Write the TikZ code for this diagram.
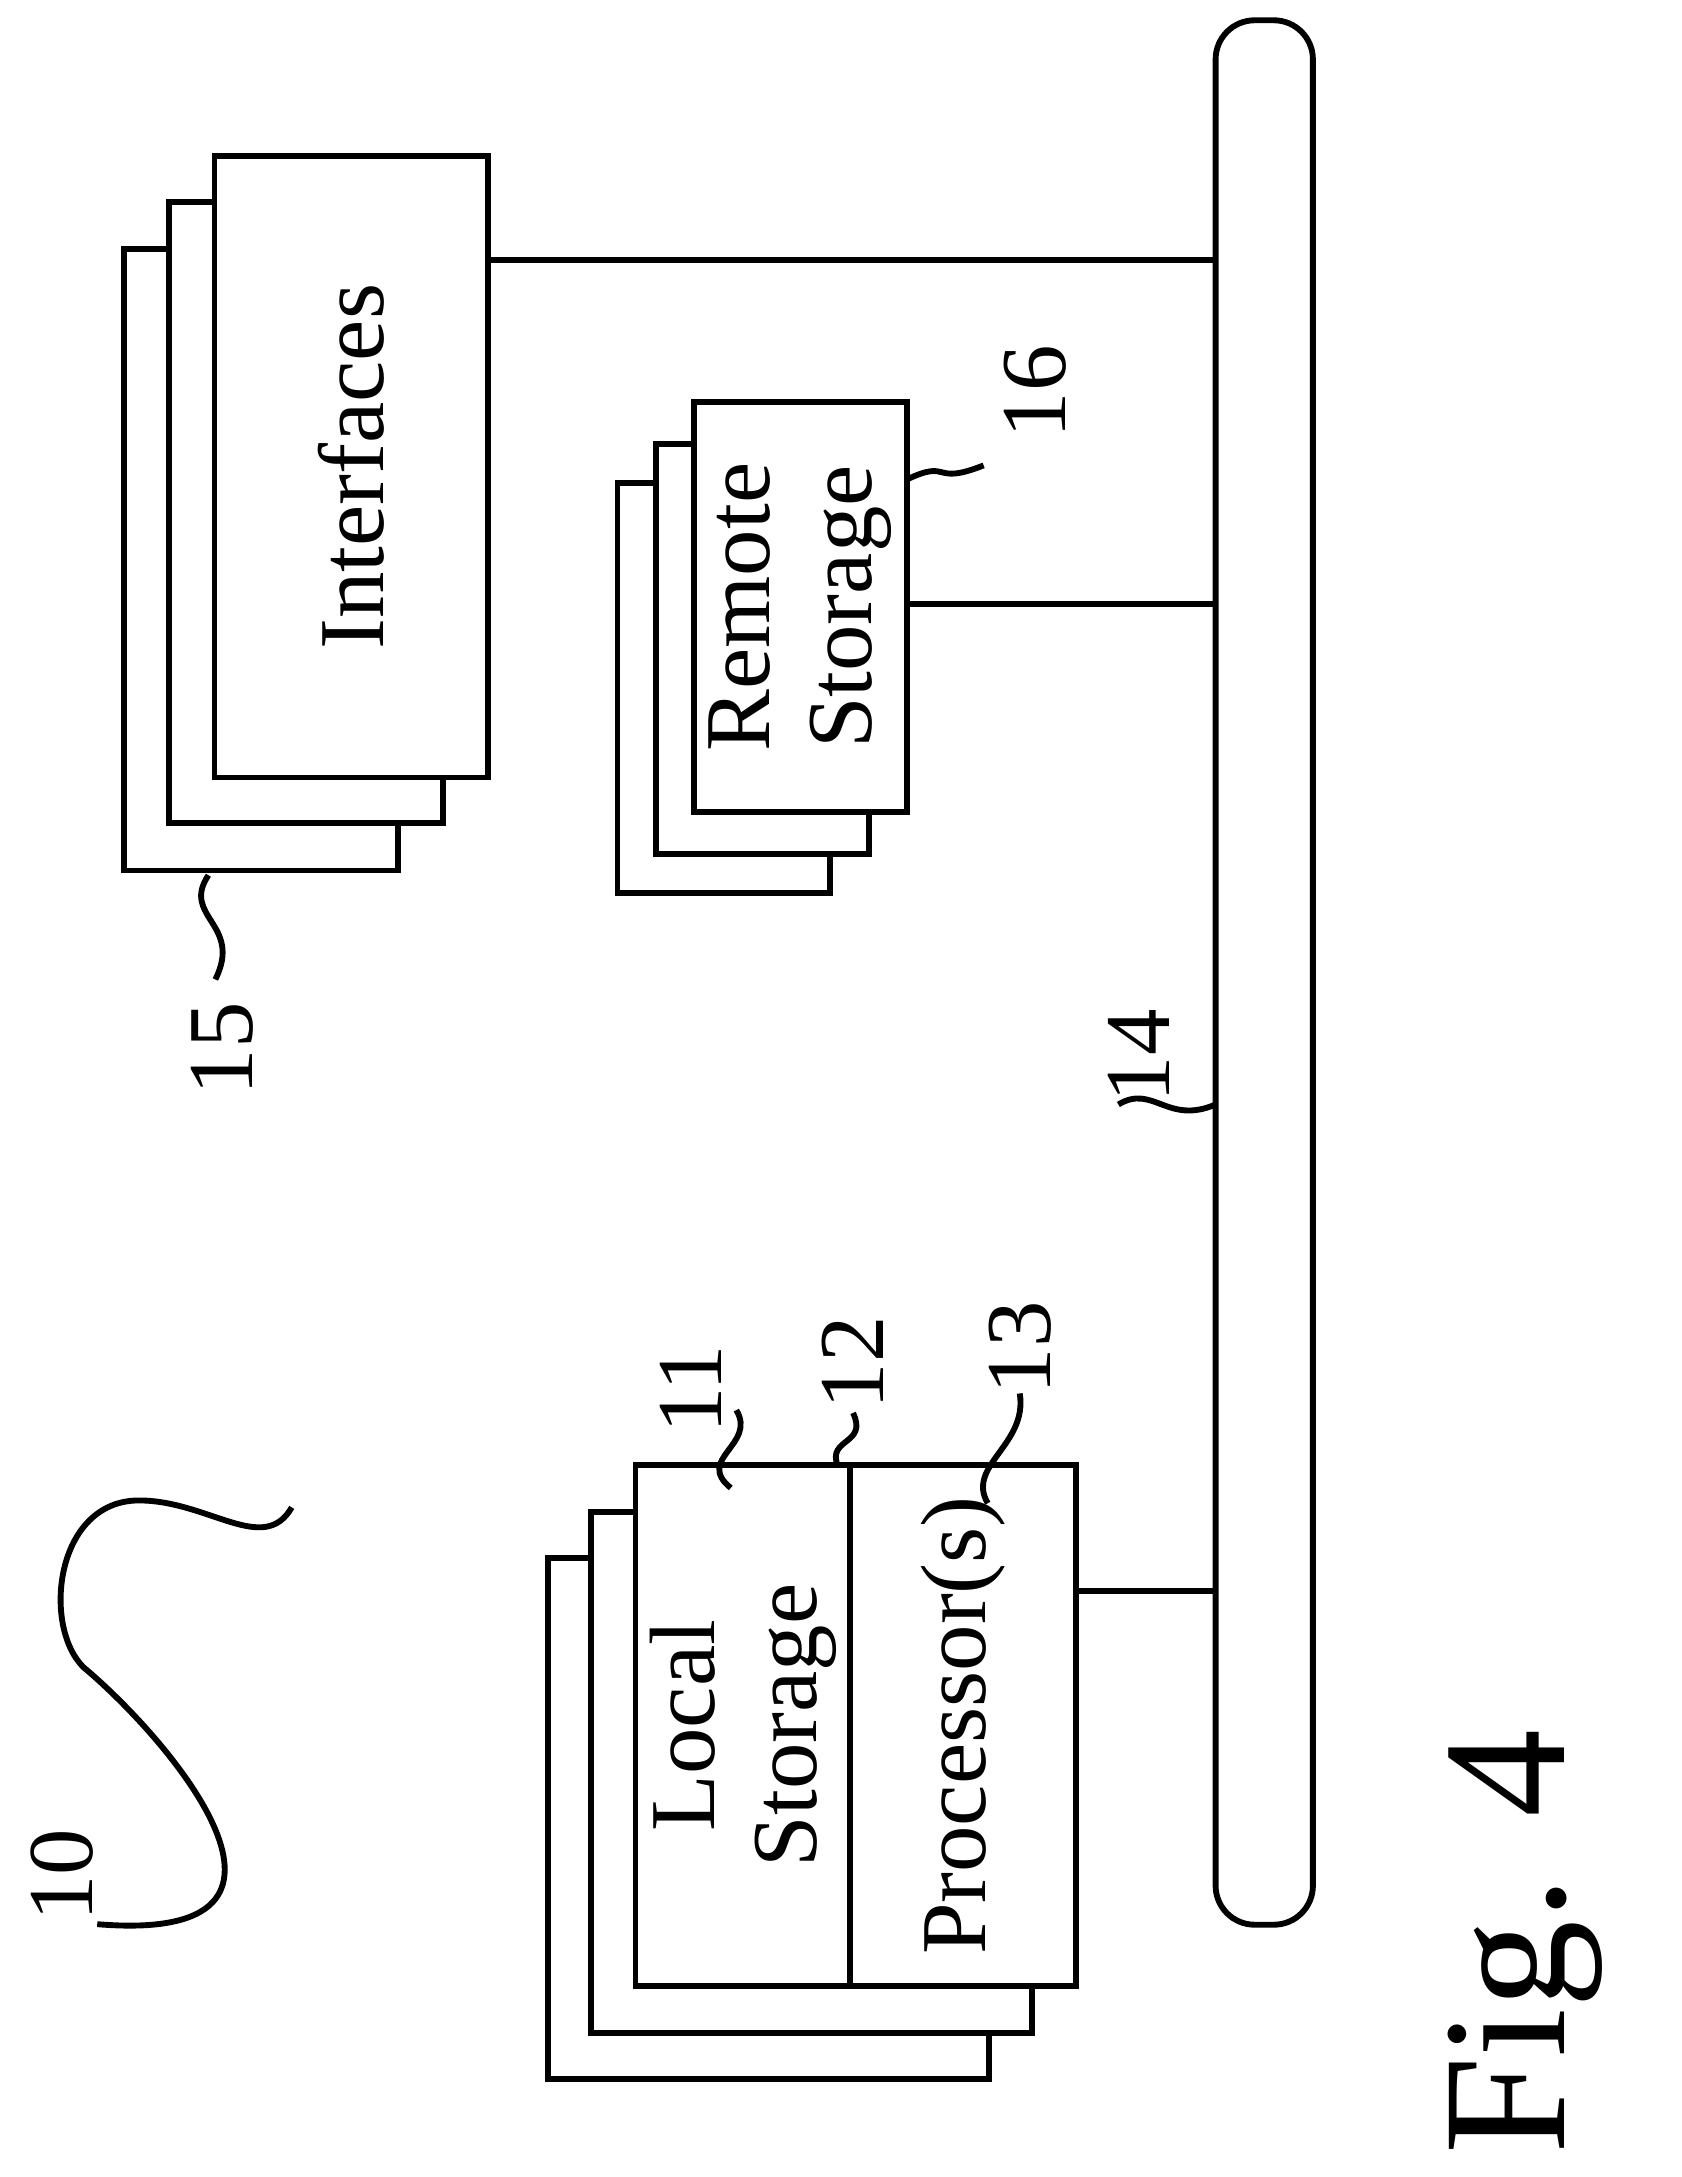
\documentclass[tikz,border=0pt]{standalone}
\usepackage{fontspec}
\setmainfont{Liberation Serif}
\usetikzlibrary{positioning}
\tikzset{
    box/.style = {rectangle, draw=black, line width=1.2pt, fill=white, inner sep=0pt},
    txt/.style = {rotate=90, align=center, font=\fontsize{19}{21}\selectfont},
    num/.style = {rotate=90, font=\fontsize{19}{21}\selectfont},
    wig/.style = {line width=1.2pt}
}
\begin{document}
\begin{tikzpicture}[x=0.01cm, y=-0.01cm]
    \useasboundingbox (0,0) rectangle (1210,1567);
    % bus
    \node [box, rounded corners=8pt, minimum width=0.7cm, minimum height=13.7cm] (bus) at (910,700) {};
    % interfaces stack
    \foreach \dx/\dy in {65/67, 33/33}
        \node [box, minimum width=1.97cm, minimum height=4.47cm] at (253-\dx,336+\dy) {};
    \node [box, minimum width=1.97cm, minimum height=4.47cm] (intf) at (253,336) {};
    \node [txt] at (intf) {Interfaces};
    \draw [line width=1.2pt] (intf.east |- 0,187) -- (bus.west |- 0,187);
    % remote storage stack
    \foreach \dx/\dy in {55/58, 27/30}
        \node [box, minimum width=1.53cm, minimum height=2.95cm] at (576-\dx,437+\dy) {};
    \node [box, minimum width=1.53cm, minimum height=2.95cm] (remote) at (576,437) {};
    \node [txt] at (remote) {Remote\\Storage};
    \draw [line width=1.2pt] (remote.east |- 0,435) -- (bus.west |- 0,435);
    % local storage / processor stack
    \foreach \dx/\dy in {63/67, 32/34}
        \node [box, minimum width=3.17cm, minimum height=3.75cm] at (616-\dx,1242+\dy) {};
    \node [box, minimum width=3.17cm, minimum height=3.75cm] (local) at (616,1242) {};
    \draw [line width=1.2pt] (612,1055) -- (612,1430);
    \node [txt] (lstor) at (535,1242) {Local\\Storage};
    \node [txt] (proc) at (693,1242) {Processor(s)};
    \draw [line width=1.2pt] (local.east |- 0,1145) -- (bus.west |- 0,1145);
    % reference numerals
    \node [num] (n10) at (45,1350) {10};
    \draw [wig] (70,1385) .. controls (250,1400) and (120,1250) .. (60,1200)
        .. controls (30,1170) and (40,1080) .. (100,1080) .. controls (150,1080) and (190,1120) .. (210,1085);
    \node [num] (n15) at (160,755) {15};
    \draw [wig] (150,630) .. controls (130,660) and (175,665) .. (155,705);
    \node [num] (n16) at (745,282) {16};
    \draw [wig] (653,345) .. controls (685,330) and (670,350) .. (708,335);
    \node [num] (n14) at (820,760) {14};
    \draw [wig] (875,795) .. controls (840,810) and (830,780) .. (805,795);
    \node [num] (n11) at (497,1000) {11};
    \draw [wig] (526,1071) .. controls (500,1050) and (545,1040) .. (530,1015);
    \node [num] (n12) at (614,981) {12};
    \draw [wig] (603,1055) .. controls (595,1035) and (625,1040) .. (614,1017);
    \node [num] (n13) at (734,970) {13};
    \draw [wig] (711,1082) .. controls (695,1055) and (740,1040) .. (734,1003);
    \node [rotate=90, font=\fontsize{36}{38}\selectfont] (fig) at (1098,1398) {Fig. 4};
\end{tikzpicture}
\end{document}
